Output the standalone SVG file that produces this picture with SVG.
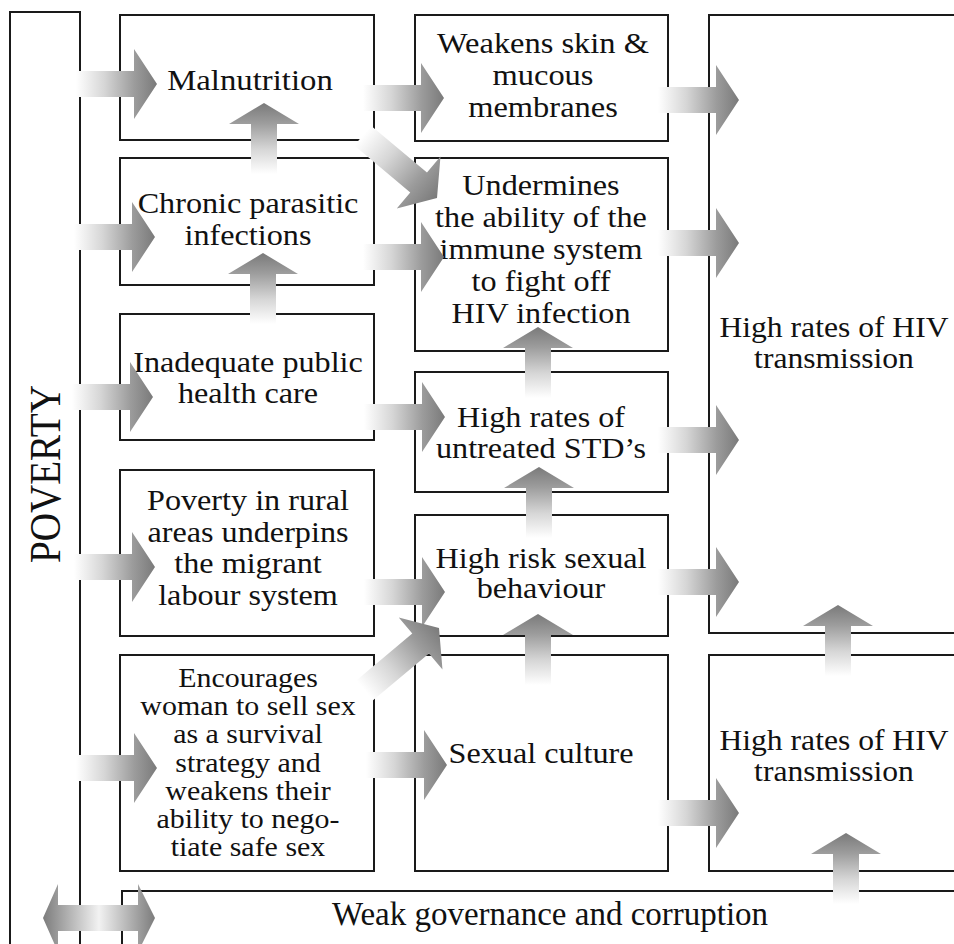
<svg xmlns="http://www.w3.org/2000/svg" width="954" height="944" viewBox="0 0 954 944">
<style>
.box{fill:#fff;stroke:#1a1a1a;stroke-width:2}
.t{font-family:"Liberation Serif","Times New Roman",serif;font-size:29px;fill:#111;text-anchor:middle}
.s{font-size:28px}
</style>
<defs>
<linearGradient id="gh" x1="0" y1="0" x2="1" y2="0">
<stop offset="0" stop-color="#ffffff"/>
<stop offset="0.35" stop-color="#d6d6d6"/>
<stop offset="0.72" stop-color="#9c9c9c"/>
<stop offset="1" stop-color="#7a7a7a"/>
</linearGradient>
<linearGradient id="gv" x1="0" y1="1" x2="0" y2="0">
<stop offset="0" stop-color="#ffffff"/>
<stop offset="0.35" stop-color="#d6d6d6"/>
<stop offset="0.72" stop-color="#9c9c9c"/>
<stop offset="1" stop-color="#7a7a7a"/>
</linearGradient>
<linearGradient id="gd" x1="0" y1="0" x2="1" y2="0">
<stop offset="0" stop-color="#7c7c7c"/>
<stop offset="0.5" stop-color="#f2f2f2"/>
<stop offset="1" stop-color="#7c7c7c"/>
</linearGradient>
<path id="ha" d="M-81,-13 H-23 V-35 L0,0 L-23,35 V13 H-81 Z" fill="url(#gh)"/>
<path id="da" d="M-97,-13 H-24 V-34 L0,0 L-24,34 V13 H-97 Z" fill="url(#gh)"/>
<path id="va" d="M-13,71 V21 H-35 L0,0 L35,21 H13 V71 Z" fill="url(#gv)"/>
</defs>
<rect width="954" height="944" fill="#fff"/>

<g id="poverty">
<rect class="box" x="10" y="12" width="70" height="960"/>
<text class="t" style="font-size:44px" textLength="178" lengthAdjust="spacingAndGlyphs" transform="translate(60,474) rotate(-90)">POVERTY</text>
</g>

<g id="malnutrition">
<rect class="box" x="120" y="15" width="254" height="125"/>
<g transform="translate(250 0) scale(1.13 1)">
<text class="t" x="0" y="90">Malnutrition</text>
</g>
</g>

<g id="chronic">
<rect class="box" x="120" y="158" width="254" height="127"/>
<g transform="translate(248 0) scale(1.11 1)">
<text class="t" x="0" y="213">Chronic parasitic</text>
<text class="t" x="0" y="245">infections</text>
</g>
</g>

<g id="inadequate">
<rect class="box" x="120" y="314" width="254" height="126"/>
<g transform="translate(248 0) scale(1.11 1)">
<text class="t" x="0" y="372">Inadequate public</text>
<text class="t" x="0" y="403">health care</text>
</g>
</g>

<g id="rural">
<rect class="box" x="120" y="470" width="254" height="166"/>
<g transform="translate(248 0) scale(1.11 1)">
<text class="t" x="0" y="510">Poverty in rural</text>
<text class="t" x="0" y="542">areas underpins</text>
<text class="t" x="0" y="573">the migrant</text>
<text class="t" x="0" y="605">labour system</text>
</g>
</g>

<g id="encourages">
<rect class="box" x="120" y="655" width="254" height="216"/>
<g transform="translate(248 0) scale(1.07 1)">
<text class="t s" x="0" y="687">Encourages</text>
<text class="t s" x="0" y="715">woman to sell sex</text>
<text class="t s" x="0" y="743">as a survival</text>
<text class="t s" x="0" y="772">strategy and</text>
<text class="t s" x="0" y="800">weakens their</text>
<text class="t s" x="0" y="828">ability to nego-</text>
<text class="t s" x="0" y="856">tiate safe sex</text>
</g>
</g>

<g id="weakens">
<rect class="box" x="415" y="15" width="253" height="126"/>
<g transform="translate(543 0) scale(1.12 1)">
<text class="t" x="0" y="53">Weakens skin &amp;</text>
<text class="t" x="0" y="85">mucous</text>
<text class="t" x="0" y="117">membranes</text>
</g>
</g>

<g id="undermines">
<rect class="box" x="415" y="158" width="253" height="193"/>
<g transform="translate(541 0) scale(1.11 1)">
<text class="t" x="0" y="195">Undermines</text>
<text class="t" x="0" y="227">the ability of the</text>
<text class="t" x="0" y="259">immune system</text>
<text class="t" x="0" y="291">to fight off</text>
<text class="t" x="0" y="323">HIV infection</text>
</g>
</g>

<g id="std">
<rect class="box" x="415" y="372" width="253" height="120"/>
<g transform="translate(541 0) scale(1.11 1)">
<text class="t" x="0" y="427">High rates of</text>
<text class="t" x="0" y="458">untreated STD’s</text>
</g>
</g>

<g id="highrisk">
<rect class="box" x="415" y="515" width="253" height="121"/>
<g transform="translate(541 0) scale(1.11 1)">
<text class="t" x="0" y="568">High risk sexual</text>
<text class="t" x="0" y="598">behaviour</text>
</g>
</g>

<g id="sexualculture">
<rect class="box" x="415" y="655" width="253" height="216"/>
<g transform="translate(541 0) scale(1.11 1)">
<text class="t" x="0" y="763">Sexual culture</text>
</g>
</g>

<g id="hiv1">
<rect class="box" x="709" y="15" width="260" height="618"/>
<g transform="translate(834 0) scale(1.09 1)">
<text class="t" x="0" y="337">High rates of HIV</text>
<text class="t" x="0" y="368">transmission</text>
</g>
</g>

<g id="hiv2">
<rect class="box" x="709" y="655" width="260" height="216"/>
<g transform="translate(834 0) scale(1.09 1)">
<text class="t" x="0" y="750">High rates of HIV</text>
<text class="t" x="0" y="781">transmission</text>
</g>
</g>

<g id="governance">
<rect class="box" x="122" y="891" width="850" height="80"/>
<text class="t" style="font-size:33px" x="550" y="925">Weak governance and corruption</text>
</g>

<g id="connectors">
<use href="#ha" x="157" y="84"/>
<use href="#ha" x="155" y="237"/>
<use href="#ha" x="153" y="397"/>
<use href="#ha" x="155" y="567"/>
<use href="#ha" x="157" y="768"/>
<use href="#ha" x="444" y="98"/>
<use href="#ha" x="444" y="257"/>
<use href="#ha" x="445" y="417"/>
<use href="#ha" x="445" y="592"/>
<use href="#ha" x="447" y="765"/>
<use href="#ha" x="739" y="100"/>
<use href="#ha" x="739" y="243"/>
<use href="#ha" x="739" y="440"/>
<use href="#ha" x="739" y="582"/>
<use href="#ha" x="739" y="813"/>
<use href="#va" x="264" y="103"/>
<use href="#va" x="263" y="253"/>
<use href="#va" x="538" y="327"/>
<use href="#va" x="539" y="467"/>
<use href="#va" x="538" y="614"/>
<use href="#va" x="838" y="605"/>
<use href="#va" x="846" y="833"/>
<use href="#da" transform="translate(437,198) rotate(40)"/>
<use href="#da" transform="translate(439,628) rotate(-40)"/>
<path d="M43,918 L58,884 V905 H138 V884 L155,918 L138,952 V931 H58 V952 Z" fill="url(#gd)"/>
</g>
</svg>
